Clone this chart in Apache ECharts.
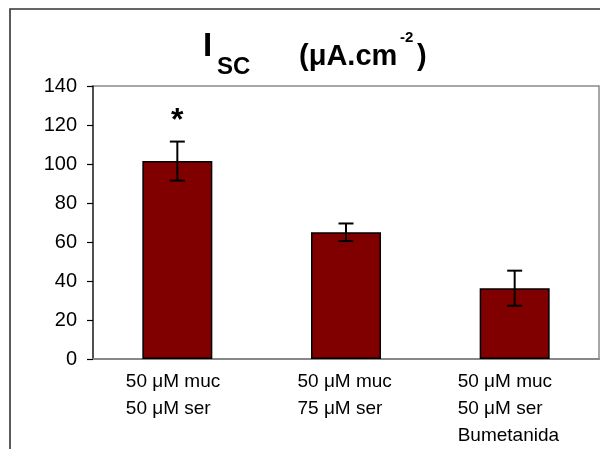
<!DOCTYPE html>
<html><head><meta charset="utf-8">
<script src="https://cdn.jsdelivr.net/npm/echarts@6/dist/echarts.min.js"></script>
<style>html,body{margin:0;padding:0;background:#fff}#c{width:600px;height:449px}</style>
</head><body><div id="c"></div>
<script>
// ---- data ----
const categories = ['50 μM muc\n50 μM ser', '50 μM muc\n75 μM ser', '50 μM muc\n50 μM ser\nBumetanida'];
const means = [101.5, 65.0, 36.3];
const errors = [10.0, 4.5, 9.0];
const marks = ['*', '', ''];
const yMin = 0, yMax = 140, yInterval = 20;

const FF = "'Liberation Sans', Arial, sans-serif";
const labelWidths = [103, 97, 114];

const chart = echarts.init(document.getElementById('c'), null, {renderer: 'canvas'});
const rich = {};
labelWidths.forEach((w, i) => {
  rich['r' + i] = {fontSize: 19, fontFamily: FF, color: '#000', lineHeight: 27, width: w, align: 'left'};
});

chart.setOption({
  animation: false,
  backgroundColor: '#fff',
  title: [
    {text: 'I', left: 203, top: 30, padding: 0, textStyle: {fontSize: 33, fontWeight: 'bold', fontFamily: FF, color: '#000', lineHeight: 33}},
    {text: 'SC', left: 217, top: 55, padding: 0, textStyle: {fontSize: 24, fontWeight: 'bold', fontFamily: FF, color: '#000', lineHeight: 24}},
    {text: '(μA.cm', left: 299, top: 42, padding: 0, textStyle: {fontSize: 29, fontWeight: 'bold', fontFamily: FF, color: '#000', lineHeight: 29}},
    {text: '-2', left: 400, top: 30, padding: 0, textStyle: {fontSize: 15, fontWeight: 'bold', fontFamily: FF, color: '#000', lineHeight: 15}},
    {text: ')', left: 417, top: 42, padding: 0, textStyle: {fontSize: 29, fontWeight: 'bold', fontFamily: FF, color: '#000', lineHeight: 29}}
  ],
  graphic: [{
    type: 'rect', silent: true, z: -1,
    shape: {x: 10, y: 9, width: 620, height: 480},
    style: {fill: 'none', stroke: '#333', lineWidth: 1.6}
  }],
  grid: {left: 93, top: 86, right: 1, bottom: 90, show: true, borderColor: '#8a8a8a', borderWidth: 1.5, backgroundColor: 'transparent'},
  xAxis: {
    type: 'category', data: categories,
    axisLine: {show: true, lineStyle: {color: '#888', width: 2}},
    axisTick: {show: false},
    axisLabel: {
      margin: 9, interval: 0,
      formatter: (v, i) => v.split('\n').map(s => '{r' + i + '|' + s + '}').join('\n'),
      rich: rich
    }
  },
  yAxis: {
    type: 'value', min: yMin, max: yMax, interval: yInterval,
    axisLine: {show: true, lineStyle: {color: '#333', width: 1.5}},
    axisTick: {show: true, inside: false, length: 6, lineStyle: {color: '#000', width: 1.2}},
    axisLabel: {margin: 16, fontSize: 20, fontFamily: FF, color: '#000'},
    splitLine: {show: false}
  },
  series: [
    {
      type: 'bar', data: means, barWidth: 70,
      itemStyle: {color: '#800000', borderColor: '#000', borderWidth: 1.5}
    },
    {
      type: 'custom', z: 5,
      data: means.map((m, i) => [i, m, errors[i]]),
      encode: {x: 0, y: 1},
      renderItem: (params, api) => {
        const i = api.value(0), m = api.value(1), e = api.value(2);
        const top = api.coord([i, m + e]);
        const bot = api.coord([i, m - e]);
        const hw = 7.5;
        const st = {stroke: '#000', lineWidth: 2};
        const children = [
          {type: 'line', shape: {x1: top[0], y1: top[1], x2: bot[0], y2: bot[1]}, style: st},
          {type: 'line', shape: {x1: top[0] - hw, y1: top[1], x2: top[0] + hw, y2: top[1]}, style: st},
          {type: 'line', shape: {x1: bot[0] - hw, y1: bot[1], x2: bot[0] + hw, y2: bot[1]}, style: st}
        ];
        const mk = marks[params.dataIndex];
        if (mk) {
          children.push({type: 'text', x: top[0], y: top[1] - 20,
            style: {text: mk, font: 'bold 32px ' + FF, align: 'center', verticalAlign: 'middle', fill: '#000'}});
        }
        return {type: 'group', children: children};
      }
    }
  ]
});
</script>
</body></html>
